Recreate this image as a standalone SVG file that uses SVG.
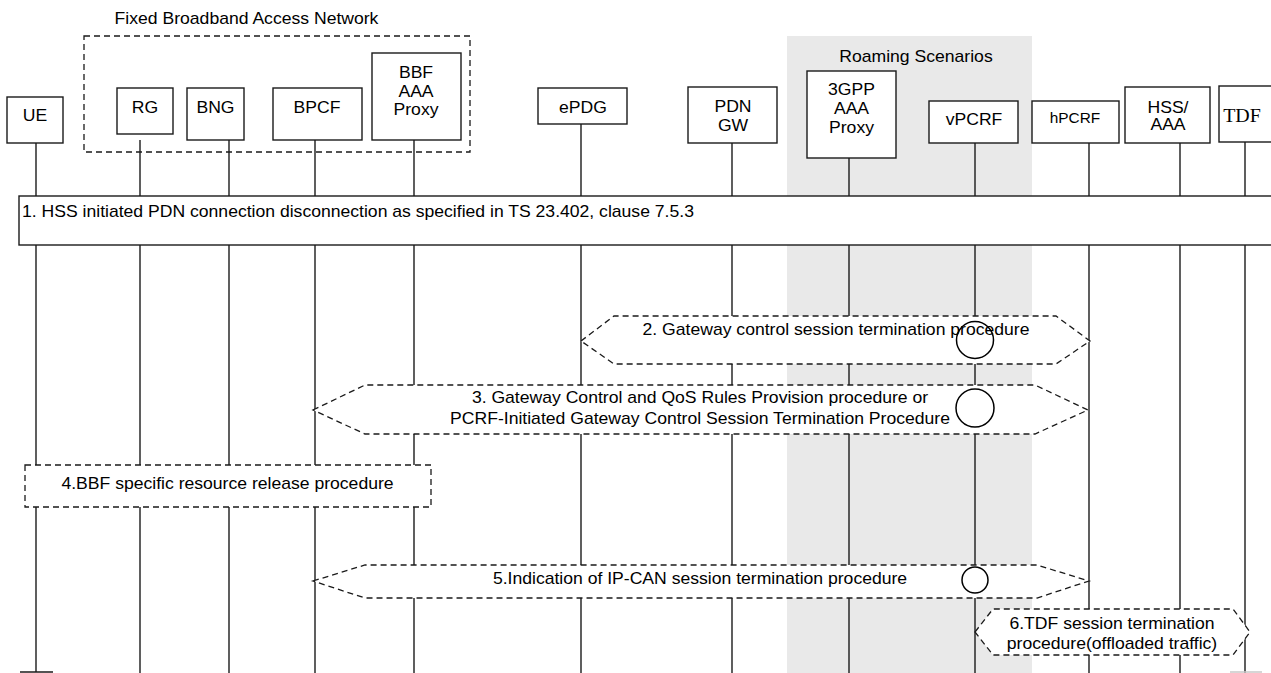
<svg xmlns="http://www.w3.org/2000/svg" width="1271" height="673" viewBox="0 0 1271 673">
<style>
.box{fill:#fff;stroke:#1a1a1a;stroke-width:1.4}
.ll{stroke:#1a1a1a;stroke-width:1.4;fill:none}
.dash{fill:#fff;stroke:#1a1a1a;stroke-width:1.3;stroke-dasharray:6 4}
.dashn{fill:none;stroke:#1a1a1a;stroke-width:1.3;stroke-dasharray:6 4}
.circ{fill:none;stroke:#000;stroke-width:1.5}
text{font-family:"Liberation Sans",Arial,sans-serif;font-size:16px;fill:#000;text-anchor:middle}
.st{text-anchor:start}
.sm{font-size:14px}
.serif{font-family:"Liberation Serif","Times New Roman",serif;font-size:19px}
</style>
<rect width="1271" height="673" fill="#fff"/>
<g id="roaming-area">
<rect x="787" y="36" width="245" height="637" fill="#e9e9e9"/>
<text transform="translate(916,62) scale(1.1,1)">Roaming Scenarios</text>
</g>
<g id="fban-group">
<rect class="dashn" x="84" y="36" width="386" height="116"/>
<text transform="translate(246.5,24) scale(1.1,1)">Fixed Broadband Access Network</text>
</g>
<g id="node-ue">
<line class="ll" x1="36" y1="143" x2="36" y2="672"/>
<line class="ll" x1="20" y1="672" x2="53" y2="672"/>
<rect class="box" x="7" y="97" width="56" height="46"/>
<text transform="translate(35,121) scale(1.1,1)">UE</text>
</g>
<g id="node-rg">
<line class="ll" x1="140" y1="140" x2="140" y2="673"/>
<rect class="box" x="117" y="88" width="56" height="46"/>
<text transform="translate(145,113) scale(1.1,1)">RG</text>
</g>
<g id="node-bng">
<line class="ll" x1="229" y1="140" x2="229" y2="673"/>
<rect class="box" x="187" y="88" width="57" height="52"/>
<text transform="translate(215.5,113) scale(1.1,1)">BNG</text>
</g>
<g id="node-bpcf">
<line class="ll" x1="315" y1="140" x2="315" y2="673"/>
<rect class="box" x="273" y="88" width="89" height="52"/>
<text transform="translate(317,113) scale(1.1,1)">BPCF</text>
</g>
<g id="node-bbf-aaa">
<line class="ll" x1="414" y1="140" x2="414" y2="673"/>
<rect class="box" x="372" y="53" width="89" height="87"/>
<text transform="translate(416,78) scale(1.1,1)">BBF</text>
<text transform="translate(416,97) scale(1.1,1)">AAA</text>
<text transform="translate(416,115) scale(1.1,1)">Proxy</text>
</g>
<g id="node-epdg">
<line class="ll" x1="581" y1="124" x2="581" y2="673"/>
<rect class="box" x="538" y="88" width="89" height="36"/>
<text transform="translate(583,113) scale(1.1,1)">ePDG</text>
</g>
<g id="node-pdngw">
<line class="ll" x1="732" y1="143" x2="732" y2="673"/>
<rect class="box" x="688" y="87" width="89" height="56"/>
<text transform="translate(733,112) scale(1.1,1)">PDN</text>
<text transform="translate(733,131) scale(1.1,1)">GW</text>
</g>
<g id="node-3gpp-aaa">
<line class="ll" x1="849" y1="158" x2="849" y2="673"/>
<rect class="box" x="807" y="71" width="89" height="87"/>
<text transform="translate(851.5,95) scale(1.1,1)">3GPP</text>
<text transform="translate(851.5,114) scale(1.1,1)">AAA</text>
<text transform="translate(851.5,133) scale(1.1,1)">Proxy</text>
</g>
<g id="node-vpcrf">
<line class="ll" x1="975" y1="143" x2="975" y2="673"/>
<rect class="box" x="929" y="101" width="89" height="42"/>
<text transform="translate(974,125) scale(1.1,1)">vPCRF</text>
</g>
<g id="node-hpcrf">
<line class="ll" x1="1089" y1="143" x2="1089" y2="673"/>
<rect class="box" x="1032" y="101" width="87" height="42"/>
<text class="sm" transform="translate(1075,123) scale(1.1,1)">hPCRF</text>
</g>
<g id="node-hss">
<line class="ll" x1="1180" y1="143" x2="1180" y2="673"/>
<rect class="box" x="1125" y="87" width="85" height="56"/>
<text transform="translate(1168,113) scale(1.1,1)">HSS/</text>
<text transform="translate(1168,130) scale(1.1,1)">AAA</text>
</g>
<g id="node-tdf">
<line class="ll" x1="1245" y1="142" x2="1245" y2="673"/>
<line x1="1230" y1="672" x2="1262" y2="672" stroke="#c8c8c8" stroke-width="1.5"/>
<rect class="box" x="1219" y="86" width="70" height="56"/>
<text class="serif" transform="translate(1242,122) scale(1.05,1)">TDF</text>
</g>
<g id="connectors">
<g id="step1">
<rect class="box" x="19" y="196" width="1270" height="49"/>
<text class="st" transform="translate(22,217) scale(1.1,1)">1. HSS initiated PDN connection disconnection as specified in TS 23.402, clause 7.5.3</text>
</g>
<g id="step2">
<polygon class="dash" points="581,341 614,316 1056,316 1090,341 1056,364 614,364"/>
<text transform="translate(836,335) scale(1.1,1)">2. Gateway control session termination procedure</text>
<circle class="circ" cx="975" cy="340" r="18.5"/>
</g>
<g id="step3">
<polygon class="dash" points="313,410 365,385 1035,385 1088,410 1035,434 365,434"/>
<text transform="translate(700,403) scale(1.1,1)">3. Gateway Control and QoS Rules Provision procedure or</text>
<text transform="translate(700,424) scale(1.1,1)">PCRF-Initiated Gateway Control Session Termination Procedure</text>
<circle class="circ" cx="975" cy="408" r="19"/>
</g>
<g id="step4">
<rect class="dash" x="25" y="465" width="406" height="42"/>
<text transform="translate(227.5,489) scale(1.1,1)">4.BBF specific resource release procedure</text>
</g>
<g id="step5">
<polygon class="dash" points="313,581 365,565 1037,565 1089,581 1037,598 365,598"/>
<text transform="translate(700,584) scale(1.1,1)">5.Indication of IP-CAN session termination procedure</text>
<circle class="circ" cx="975" cy="580" r="13"/>
</g>
<g id="step6">
<polygon class="dash" points="975,632 993,609 1233,609 1250,632 1233,655 993,655"/>
<text transform="translate(1112,629) scale(1.1,1)">6.TDF session termination</text>
<text transform="translate(1112,649) scale(1.1,1)">procedure(offloaded traffic)</text>
</g>
</g>
</svg>
